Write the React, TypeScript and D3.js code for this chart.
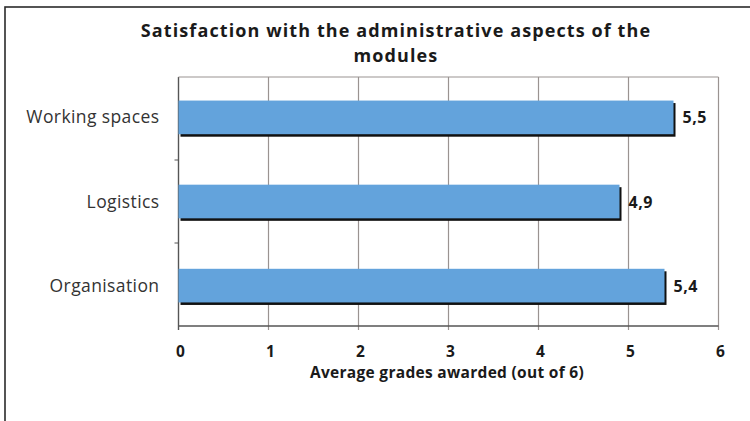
import React from "react";
import * as d3 from "d3";

// Average grade per administrative aspect (out of 6)
const categories = ["Working spaces", "Logistics", "Organisation"];
const grades = [5.5, 4.9, 5.4];
const gradeLabels = ["5,5", "4,9", "5,4"];
const xTicks = [0, 1, 2, 3, 4, 5, 6];
const titleLines = ["Satisfaction with the administrative aspects of the", "modules"];
const xAxisTitle = "Average grades awarded (out of 6)";

const W = 750;
const H = 421;
const plot = { left: 178.5, right: 718.5, top: 77, bottom: 326 };
const FONT = "'Open Sans', 'Liberation Sans', sans-serif";

export default function App() {
  const x = d3.scaleLinear().domain([0, 6]).range([plot.left, plot.right]);
  const y = d3
    .scaleBand<string>()
    .domain(categories)
    .range([plot.top, plot.bottom])
    .paddingInner(0.6)
    .paddingOuter(0.28);
  const band = (plot.bottom - plot.top) / categories.length;
  const bw = y.bandwidth();

  return (
    <svg
      width={W}
      height={H}
      style={{ position: "absolute", left: 0, top: 0, background: "#fff" }}
      fontFamily={FONT}
    >
      <rect x={5} y={7} width={800} height={500} fill="#fff" stroke="#2b2b2b" strokeWidth={1.6} />

      {titleLines.map((t, i) => (
        <text
          key={i}
          x={396}
          y={37 + i * 25}
          textAnchor="middle"
          fontSize={18}
          fontWeight={700}
          letterSpacing={1.1}
          fill="#1a1a1a"
        >
          {t}
        </text>
      ))}

      {/* vertical grid lines */}
      {xTicks.map((t) => (
        <line
          key={t}
          x1={x(t)}
          x2={x(t)}
          y1={plot.top}
          y2={plot.bottom + 4}
          stroke={t === 0 ? "#555" : "#9a9391"}
          strokeWidth={t === 0 ? 1.4 : 1.2}
        />
      ))}
      <line x1={plot.left} x2={plot.right} y1={plot.top} y2={plot.top} stroke="#9a9391" strokeWidth={1.2} />
      <line x1={plot.left} x2={plot.right} y1={plot.bottom} y2={plot.bottom} stroke="#555" strokeWidth={1.5} />

      {/* category separators on the vertical axis */}
      {categories.slice(1).map((_, i) => (
        <line
          key={i}
          x1={plot.left - 4}
          x2={plot.left}
          y1={plot.top + band * (i + 1)}
          y2={plot.top + band * (i + 1)}
          stroke="#555"
          strokeWidth={1}
        />
      ))}

      {/* bars with a dark drop shadow on the right and bottom */}
      {categories.map((c, i) => {
        const y0 = y(c) as number;
        const x1 = x(grades[i]);
        return (
          <g key={c}>
            <rect x={plot.left + 2} y={y0 + 2.5} width={x1 - plot.left} height={bw} fill="#111" />
            <rect x={plot.left} y={y0} width={x1 - plot.left} height={bw} fill="#63a3dc" />
            <text
              x={x1 + 9}
              y={y0 + bw / 2 + 6}
              fontSize={16}
              fontWeight={700}
              letterSpacing={0.5}
              fill="#1a1a1a"
            >
              {gradeLabels[i]}
            </text>
            <text
              x={plot.left - 19}
              y={y0 + bw / 2 + 6}
              textAnchor="end"
              fontSize={17.5}
              letterSpacing={0.4}
              fill="#333"
            >
              {c}
            </text>
          </g>
        );
      })}

      {xTicks.map((t) => (
        <text
          key={t}
          x={x(t) + 2}
          y={plot.bottom + 31}
          textAnchor="middle"
          fontSize={15.5}
          fontWeight={700}
          fill="#1a1a1a"
        >
          {t}
        </text>
      ))}

      <text
        x={447}
        y={plot.bottom + 52}
        textAnchor="middle"
        fontSize={15.5}
        fontWeight={700}
        letterSpacing={0.3}
        fill="#1a1a1a"
      >
        {xAxisTitle}
      </text>
    </svg>
  );
}
